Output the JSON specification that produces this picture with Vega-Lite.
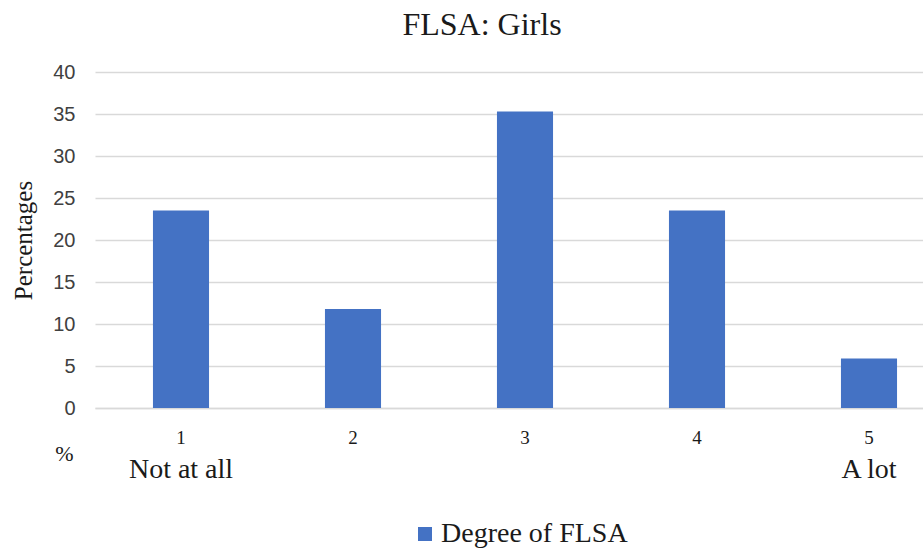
{
  "$schema": "https://vega.github.io/schema/vega-lite/v6.json",
  "width": 860,
  "height": 336,
  "autosize": {"type": "none"},
  "padding": {"left": 95, "top": 72, "right": 0, "bottom": 140},
  "background": "white",
  "title": {
    "text": "FLSA: Girls",
    "font": "Liberation Serif",
    "fontSize": 32,
    "fontWeight": "normal",
    "color": "#1a1a1a",
    "anchor": "middle",
    "baseline": "alphabetic",
    "offset": 0,
    "dx": -43,
    "dy": 5
  },
  "config": {
    "view": {"stroke": null}
  },
  "data": {
    "values": [
      {"degree": "1", "pct": 23.5, "series": "Degree of FLSA", "note": "Not at all"},
      {"degree": "2", "pct": 11.8, "series": "Degree of FLSA", "note": ""},
      {"degree": "3", "pct": 35.3, "series": "Degree of FLSA", "note": ""},
      {"degree": "4", "pct": 23.5, "series": "Degree of FLSA", "note": ""},
      {"degree": "5", "pct": 5.9, "series": "Degree of FLSA", "note": "A lot"}
    ]
  },
  "encoding": {
    "x": {
      "field": "degree",
      "type": "ordinal",
      "scale": {"paddingInner": 0.674, "paddingOuter": 0.337},
      "axis": {
        "title": "%",
        "titleFont": "Liberation Serif",
        "titleFontSize": 22,
        "titleFontWeight": "normal",
        "titleColor": "#1a1a1a",
        "titleX": -31,
        "titleY": 52,
        "titleAlign": "center",
        "titleBaseline": "alphabetic",
        "labelAngle": 0,
        "labelFont": "Liberation Serif",
        "labelFontSize": 19,
        "labelColor": "#1a1a1a",
        "labelPadding": 20,
        "ticks": false,
        "domainColor": "#D9D9D9",
        "domainWidth": 1.5,
        "grid": false
      }
    }
  },
  "layer": [
    {
      "mark": {"type": "bar"},
      "encoding": {
        "y": {
          "field": "pct",
          "type": "quantitative",
          "scale": {"domain": [0, 40]},
          "axis": {
            "title": "Percentages",
            "titleFont": "Liberation Serif",
            "titleFontSize": 25,
            "titleFontWeight": "normal",
            "titleColor": "#1a1a1a",
            "titleX": -64,
            "titleY": 168,
            "titleAngle": -90,
            "titleAlign": "center",
            "titleBaseline": "alphabetic",
            "values": [0, 5, 10, 15, 20, 25, 30, 35, 40],
            "labelFont": "Liberation Sans",
            "labelFontSize": 20,
            "labelColor": "#404040",
            "labelPadding": 20,
            "ticks": false,
            "domain": false,
            "gridColor": "#D9D9D9",
            "gridWidth": 1.5
          }
        },
        "color": {
          "field": "series",
          "type": "nominal",
          "scale": {"range": ["#4472C4"]},
          "legend": {
            "title": null,
            "orient": "none",
            "legendX": 316,
            "legendY": 448,
            "symbolType": "square",
            "symbolSize": 196,
            "symbolStrokeWidth": 0,
            "labelFont": "Liberation Serif",
            "labelFontSize": 28,
            "labelColor": "#1a1a1a",
            "labelOffset": 2,
            "labelLimit": 0
          }
        }
      }
    },
    {
      "mark": {
        "type": "text",
        "font": "Liberation Serif",
        "fontSize": 28,
        "color": "#1a1a1a",
        "baseline": "alphabetic",
        "dy": 70,
        "clip": false
      },
      "encoding": {
        "y": {"datum": 0},
        "text": {"field": "note"}
      }
    }
  ]
}
